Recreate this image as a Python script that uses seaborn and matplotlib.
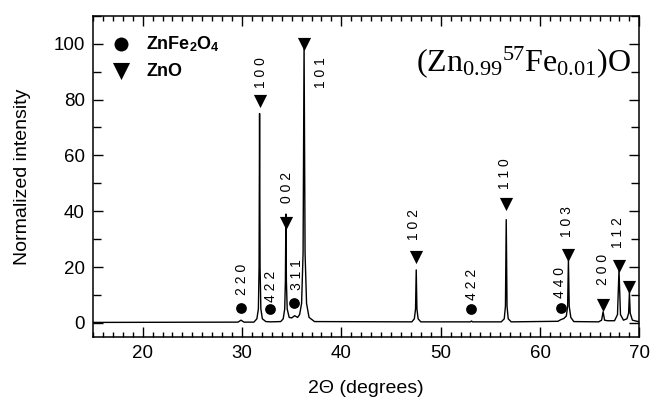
import matplotlib
matplotlib.use("Agg")
import matplotlib.pyplot as plt
from matplotlib.ticker import MultipleLocator
import seaborn as sns
import pandas as pd

# Measured diffraction trace (2-theta in degrees, normalized counts)
two_theta = [
    15.0, 29.6, 29.9, 30.2,
    31.2, 31.5, 31.65, 31.72, 31.77, 31.82, 31.9, 32.05, 32.4,
    32.9, 33.9, 34.15, 34.3, 34.37, 34.42, 34.47, 34.55, 34.75,
    35.0, 35.3, 35.6,
    35.8, 36.0, 36.15, 36.25, 36.35, 36.5, 36.75, 37.3,
    47.1, 47.35, 47.47, 47.54, 47.61, 47.73, 48.0,
    53.0, 53.1, 53.2,
    56.1, 56.4, 56.52, 56.6, 56.68, 56.8, 57.1,
    61.8, 62.1, 62.4, 62.65, 62.78, 62.86, 62.94, 63.1, 63.4,
    65.9, 66.2, 66.35, 66.5, 66.8,
    67.5, 67.8, 67.95, 68.1, 68.4,
    68.75, 68.92, 69.0, 69.08, 69.3, 70.0,
]
intensity = [
    0.2, 0.3, 1.0, 0.3,
    0.3, 1.5, 5.0, 20.0, 75.0, 20.0, 5.0, 1.5, 0.5,
    0.4, 0.5, 1.5, 5.0, 15.0, 39.0, 15.0, 5.0, 2.0,
    1.8, 2.6, 2.0,
    3.0, 7.0, 25.0, 100.0, 25.0, 7.0, 2.0, 0.5,
    0.4, 1.5, 5.0, 19.0, 5.0, 1.5, 0.4,
    0.4, 0.7, 0.4,
    0.4, 1.5, 6.0, 37.0, 6.0, 1.5, 0.4,
    0.6, 1.2, 1.6, 2.5, 6.0, 22.5, 6.0, 2.0, 0.5,
    0.4, 1.0, 4.0, 1.0, 0.8,
    0.8, 3.0, 19.0, 3.0, 1.0,
    1.5, 3.5, 11.0, 3.5, 1.0, 0.4,
]

# Phase markers
zno_pos = [31.77, 34.42, 36.25, 47.54, 56.6, 62.86, 66.35, 67.95, 69.0]
zno_mark = [79.5, 35.7, 100.0, 23.6, 42.5, 24.3, 6.4, 20.4, 12.9]
spinel_pos = [29.9, 32.8, 35.25, 53.1, 62.1]
spinel_mark = [5.4, 5.0, 7.0, 5.0, 5.5]

# Miller indices: (text, x, lower end of text)
hkl_text = ["2 2 0", "4 2 2", "3 1 1", "0 0 2", "1 0 0", "1 0 1", "1 0 2",
            "1 1 0", "4 2 2", "4 4 0", "1 0 3", "2 0 0", "1 1 2"]
hkl_x = [30.0, 32.9, 35.5, 34.5, 31.9, 38.0, 47.3,
         56.5, 53.2, 62.0, 62.7, 66.3, 67.9]
hkl_y = [10.0, 7.5, 11.8, 43.0, 84.0, 84.0, 29.6,
         48.0, 8.2, 9.0, 30.7, 13.6, 27.0]

sns.set_style("ticks")
plt.rcParams["font.family"] = ["Liberation Sans", "DejaVu Sans"]
plt.rcParams["mathtext.fontset"] = "custom"
plt.rcParams["mathtext.rm"] = "Liberation Serif"
plt.rcParams["mathtext.bf"] = "Liberation Sans:bold"
plt.rcParams["mathtext.it"] = "Liberation Serif:italic"
plt.rcParams["text.color"] = "black"
plt.rcParams["axes.labelcolor"] = "black"
plt.rcParams["xtick.color"] = "black"
plt.rcParams["ytick.color"] = "black"
plt.rcParams["axes.edgecolor"] = "black"

fig = plt.figure(figsize=(6.52, 4.04), dpi=100)
ax = fig.add_axes([0.1426, 0.166, 0.838, 0.795])

trace = pd.DataFrame({"two_theta": two_theta, "intensity": intensity})
sns.lineplot(data=trace, x="two_theta", y="intensity", ax=ax,
             estimator=None, sort=False, color="black", linewidth=1.0)

sns.scatterplot(x=spinel_pos, y=spinel_mark, ax=ax, marker="o", s=60,
                color="black", edgecolor="black", linewidth=0,
                label=r"ZnFe$_\mathbf{2}$O$_\mathbf{4}$", zorder=5, clip_on=False)
sns.scatterplot(x=zno_pos, y=zno_mark, ax=ax, marker="v", s=90,
                color="black", edgecolor="black", linewidth=0,
                label="ZnO", zorder=5, clip_on=False)

for t, x, y in zip(hkl_text, hkl_x, hkl_y):
    ax.text(x, y, t, rotation=90, ha="center", va="bottom", fontsize=10)

ax.text(0.985, 0.855,
        r"$\mathrm{(Zn_{0.99}{}^{57}Fe_{0.01})O}$",
        transform=ax.transAxes, ha="right", va="center", fontsize=23)

ax.set_xlim(15, 70)
ax.set_ylim(-5, 110)
ax.xaxis.set_major_locator(MultipleLocator(10))
ax.xaxis.set_minor_locator(MultipleLocator(1))
ax.yaxis.set_major_locator(MultipleLocator(20))
ax.yaxis.set_minor_locator(MultipleLocator(10))
ax.tick_params(which="both", direction="in", top=True, right=True,
               width=1.0, labelsize=13.5, pad=6)
ax.tick_params(which="major", length=7)
ax.tick_params(which="minor", length=3.8)
ax.tick_params(axis="y", which="minor", length=6)
for s in ax.spines.values():
    s.set_visible(True)
    s.set_linewidth(1.1)

ax.set_xlabel("2\u0398 (degrees)", fontsize=14, labelpad=13)
ax.set_ylabel("Normalized intensity", fontsize=14, labelpad=16)

leg = ax.legend(loc="upper left", bbox_to_anchor=(-0.015, 1.0), frameon=False,
                prop={"weight": "bold", "size": 13}, handletextpad=0.4,
                labelspacing=0.52, borderaxespad=0.6, markerscale=1.3)

fig.savefig("out.png", dpi=100)
